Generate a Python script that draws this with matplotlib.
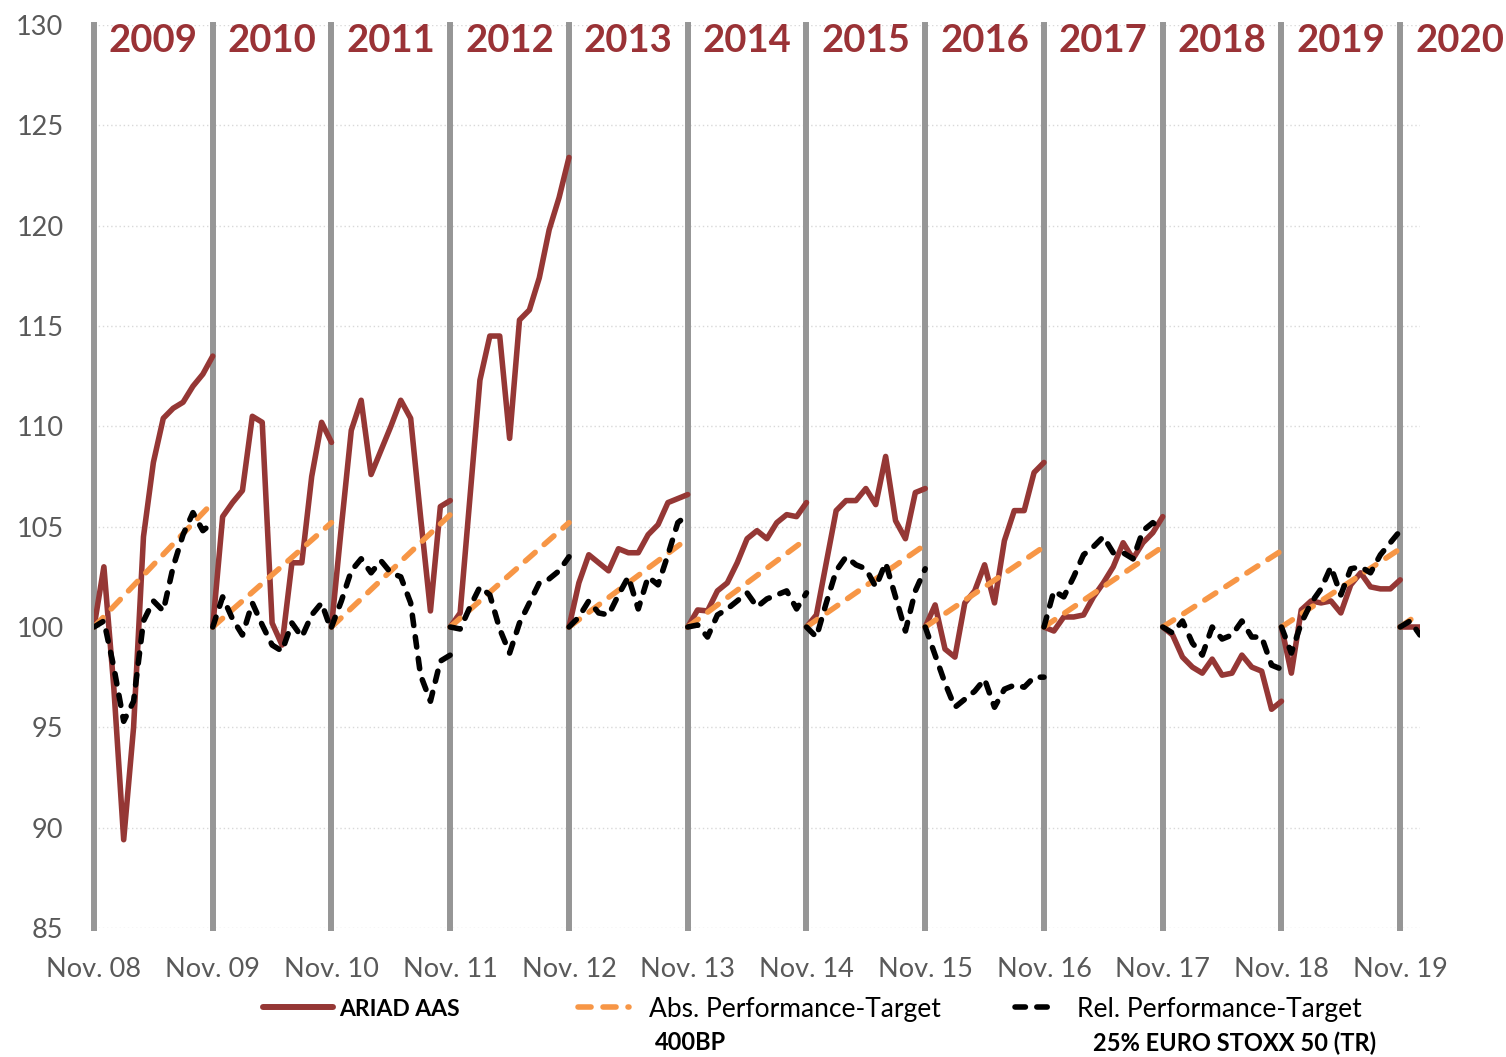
import matplotlib
matplotlib.use("Agg")
import matplotlib.pyplot as plt
from matplotlib.lines import Line2D

plt.rcParams['font.family'] = ['Lato', 'DejaVu Sans']
plt.rcParams['lines.scale_dashes'] = False

years = ['2009', '2010', '2011', '2012', '2013', '2014',
         '2015', '2016', '2017', '2018', '2019', '2020']
tick_labels = ['Nov. 08', 'Nov. 09', 'Nov. 10', 'Nov. 11', 'Nov. 12', 'Nov. 13',
               'Nov. 14', 'Nov. 15', 'Nov. 16', 'Nov. 17', 'Nov. 18', 'Nov. 19']

# monthly values, each year restarts at 100 (Nov .. Nov)
ariad_aas = [
    [100, 103.0, 97.0, 89.4, 95.0, 104.5, 108.2, 110.4, 110.9, 111.2, 112.0, 112.6, 113.5],
    [100, 105.5, 106.2, 106.8, 110.5, 110.2, 100.2, 99.1, 103.2, 103.2, 107.5, 110.2, 109.2],
    [100, 105.0, 109.8, 111.3, 107.6, 108.8, 110.0, 111.3, 110.4, 105.5, 100.8, 106.0, 106.3],
    [100, 100.7, 106.5, 112.3, 114.5, 114.5, 109.4, 115.3, 115.8, 117.4, 119.8, 121.4, 123.4],
    [100, 102.2, 103.6, 103.2, 102.8, 103.9, 103.7, 103.7, 104.6, 105.1, 106.2, 106.4, 106.6],
    [100, 100.85, 100.8, 101.8, 102.2, 103.2, 104.4, 104.8, 104.4, 105.2, 105.6, 105.5, 106.2],
    [100, 100.6, 103.2, 105.8, 106.3, 106.3, 106.9, 106.1, 108.5, 105.3, 104.4, 106.7, 106.9],
    [100, 101.1, 98.9, 98.5, 101.2, 101.8, 103.1, 101.2, 104.3, 105.8, 105.8, 107.7, 108.2],
    [100, 99.8, 100.5, 100.5, 100.6, 101.5, 102.2, 103.0, 104.2, 103.4, 104.2, 104.7, 105.5],
    [100, 99.6, 98.5, 98.0, 97.7, 98.4, 97.6, 97.7, 98.6, 98.0, 97.8, 95.9, 96.3],
    [100, 97.7, 100.85, 101.3, 101.2, 101.3, 100.7, 102.1, 102.7, 102.0, 101.9, 101.9, 102.35],
    [100, 100, 100],
]

rel_target = [
    [100, 100.3, 98.0, 95.3, 96.3, 100.3, 101.3, 100.8, 103.0, 104.6, 105.7, 104.8, 105.2],
    [100, 101.5, 100.4, 99.6, 101.2, 100.1, 99.1, 98.8, 100.2, 99.5, 100.6, 101.2, 99.8],
    [100, 101.3, 102.8, 103.4, 102.7, 103.3, 102.7, 102.5, 101.2, 97.6, 96.3, 98.3, 98.6],
    [100, 99.9, 101.0, 102.0, 101.6, 99.9, 98.7, 100.2, 101.2, 102.2, 102.4, 102.8, 103.5],
    [100, 100.5, 101.3, 100.7, 100.6, 101.6, 102.5, 100.9, 102.5, 102.1, 103.6, 105.2, 105.6],
    [100, 100.1, 99.5, 100.6, 100.9, 101.3, 101.7, 101.0, 101.4, 101.6, 101.8, 100.9, 101.7],
    [100, 99.5, 101.2, 102.8, 103.5, 103.1, 102.9, 102.0, 103.2, 101.5, 99.8, 101.8, 102.9],
    [100, 98.6, 97.2, 96.0, 96.4, 96.8, 97.4, 96.0, 96.9, 97.1, 97.0, 97.5, 97.5],
    [100, 101.8, 101.5, 102.5, 103.6, 104.0, 104.5, 103.7, 103.7, 103.4, 104.8, 105.2, 104.8],
    [100, 99.7, 100.3, 99.2, 98.6, 100.0, 99.4, 99.6, 100.3, 99.5, 99.5, 98.1, 97.9],
    [100, 98.7, 100.2, 101.2, 101.9, 103.0, 101.6, 102.9, 103.0, 102.7, 103.6, 104.2, 104.8],
    [100, 100.3, 99.6],
]

# absolute target: straight line from 100 to end value over each period
abs_target = [
    [100, 106.2], [100, 105.2], [100, 105.6], [100, 105.2], [100, 104.4], [100, 104.4],
    [100, 104.1], [100, 104.0], [100, 104.0], [100, 103.8], [100, 103.9], [100, 100.7],
]
abs_span = [12, 12, 12, 12, 12, 12, 12, 12, 12, 12, 12, 2]

red = '#953735'
orange = '#F79646'
year_col = '#9A3236'
gray = '#969696'
txt_gray = '#595959'

fig = plt.figure(figsize=(15.06, 10.57), dpi=100)
ax = fig.add_axes([94 / 1506, 1 - 928 / 1057, (1420 - 94) / 1506, (928 - 25) / 1057])

for k in range(12):
    ax.axvline(12 * k, color=gray, lw=4.3, zorder=1, clip_on=False)

for k in range(12):
    start = 12 * k
    a = ariad_aas[k]
    r = rel_target[k]
    ax.plot(range(start, start + len(a)), a, color=red, lw=4.0,
            solid_capstyle='round', zorder=3)
    ax.plot([start, start + abs_span[k]], abs_target[k], color=orange, lw=4.0,
            dashes=(9.4, 8.6), dash_capstyle='round', zorder=4)
    ax.plot(range(start, start + len(r)), r, color='black', lw=4.0,
            dashes=(7.5, 8.2), dash_capstyle='round', zorder=5)
    ax.text(start + 6, 129.2, years[k], ha='center', va='center', fontsize=27.5,
            fontweight='bold', color=year_col, clip_on=False)

ax.set_xlim(0, 134)
ax.set_ylim(85, 130)
ax.set_yticks(range(85, 131, 5))
ax.set_xticks(range(0, 133, 12))
ax.set_xticklabels(tick_labels)
ax.tick_params(axis='both', length=0, labelsize=19.5, labelcolor=txt_gray)
ax.tick_params(axis='y', pad=22)
ax.tick_params(axis='x', pad=21)
ax.yaxis.grid(True, color='#D9D9D9', lw=1, linestyle=(0, (1, 2)), zorder=0)
ax.set_axisbelow(True)
for s in ax.spines.values():
    s.set_visible(False)

# legend, one entry each so they can sit where the original has them
ly = 1 - 1009 / 1057
h1 = Line2D([], [], color=red, lw=4.3, solid_capstyle='round')
h2 = Line2D([], [], color=orange, lw=4.0, dashes=(9.4, 8.6), dash_capstyle='round')
h3 = Line2D([], [], color='black', lw=4.0, dashes=(7.5, 8.2), dash_capstyle='round')
fig.legend([h1], ['ARIAD AAS'], loc='center left', bbox_to_anchor=(263 / 1506, ly),
           frameon=False, borderpad=0, borderaxespad=0, handlelength=70 / 23,
           handletextpad=0.3, prop={'size': 16.5, 'weight': 'bold'})
fig.legend([h2], ['Abs. Performance-Target'], loc='center left',
           bbox_to_anchor=(578 / 1506, ly), frameon=False, borderpad=0, borderaxespad=0,
           handlelength=50 / 26, handletextpad=0.75, prop={'size': 19})
fig.legend([h3], ['Rel. Performance-Target'], loc='center left',
           bbox_to_anchor=(1015 / 1506, ly), frameon=False, borderpad=0, borderaxespad=0,
           handlelength=40 / 26, handletextpad=0.8, prop={'size': 19})
fig.text(655 / 1506, 1 - 1043 / 1057, '400BP', fontsize=17, fontweight='bold',
         va='center', ha='left')
fig.text(1093 / 1506, 1 - 1043 / 1057, '25% EURO STOXX 50 (TR)', fontsize=17,
         fontweight='bold', va='center', ha='left')

plt.savefig('out.png', dpi=100)
